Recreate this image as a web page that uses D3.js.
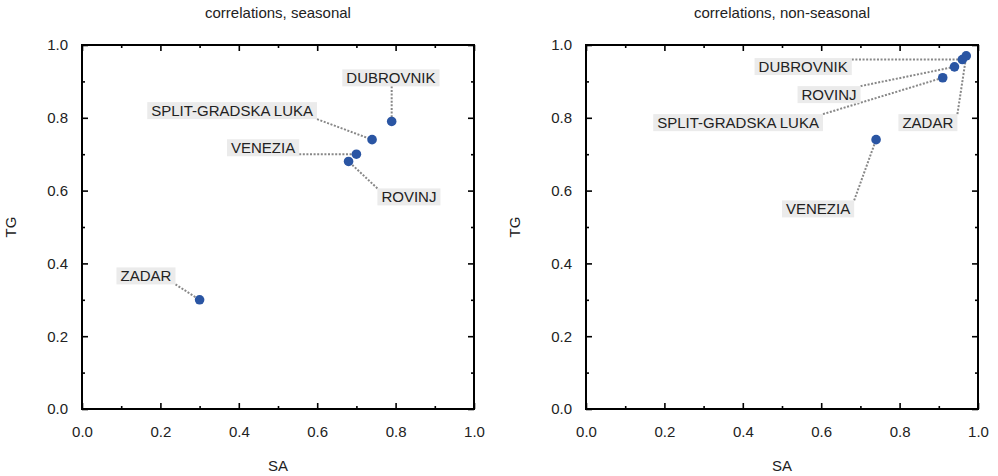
<!DOCTYPE html>
<html>
<head>
<meta charset="utf-8">
<script src="https://cdn.jsdelivr.net/npm/d3@7"></script>
<style>
  body { margin: 0; background: #fff; }
  text { font-family: "Liberation Sans", Arial, sans-serif; fill: #222; }
</style>
</head>
<body>
<script>
// station names, same order in every array below
var names = ["DUBROVNIK", "SPLIT-GRADSKA LUKA", "VENEZIA", "ROVINJ", "ZADAR"];

// seasonal correlations
var seasonalSA = [0.79, 0.74, 0.70, 0.68, 0.30];
var seasonalTG = [0.79, 0.74, 0.70, 0.68, 0.30];

// non-seasonal correlations
var nonSeasonalSA = [0.96, 0.91, 0.74, 0.94, 0.97];
var nonSeasonalTG = [0.96, 0.91, 0.74, 0.94, 0.97];

// where the name tags sit (data units)
var seasonalLabelAt = [[0.788, 0.909], [0.383, 0.819], [0.462, 0.717], [0.834, 0.582], [0.163, 0.365]];
var nonSeasonalLabelAt = [[0.554, 0.940], [0.388, 0.786], [0.592, 0.549], [0.620, 0.863], [0.872, 0.786]];

var majorTicks = [0, 0.2, 0.4, 0.6, 0.8, 1.0];
var minorTicks = [0.1, 0.3, 0.5, 0.7, 0.9];

var width = 998,
    height = 476;

var svg = d3.select("body").append("svg")
    .attr("width", width)
    .attr("height", height)
    .style("display", "block");

var plotW = 392,
    plotH = 364,
    plotTop = 45;

var panels = [
  {title: "correlations, seasonal", left: 82, sa: seasonalSA, tg: seasonalTG, labels: seasonalLabelAt},
  {title: "correlations, non-seasonal", left: 586, sa: nonSeasonalSA, tg: nonSeasonalTG, labels: nonSeasonalLabelAt}
];

panels.forEach(function(p) {
  var g = svg.append("g").attr("transform", "translate(" + p.left + "," + plotTop + ")");

  var x = d3.scaleLinear().domain([0, 1]).range([0, plotW]);
  var y = d3.scaleLinear().domain([0, 1]).range([plotH, 0]);

  // labelled axes
  g.append("g")
      .attr("transform", "translate(0," + plotH + ")")
      .call(d3.axisBottom(x).tickValues(majorTicks).tickFormat(d3.format(".1f"))
        .tickSizeInner(-6).tickSizeOuter(0).tickPadding(17));
  g.append("g")
      .call(d3.axisLeft(y).tickValues(majorTicks).tickFormat(d3.format(".1f"))
        .tickSizeInner(-6).tickSizeOuter(0).tickPadding(14));
  // mirror axes
  g.append("g")
      .call(d3.axisTop(x).tickValues(majorTicks).tickFormat("").tickSizeInner(-6).tickSizeOuter(0));
  g.append("g")
      .attr("transform", "translate(" + plotW + ",0)")
      .call(d3.axisRight(y).tickValues(majorTicks).tickFormat("").tickSizeInner(-6).tickSizeOuter(0));
  // minor ticks
  g.append("g")
      .attr("transform", "translate(0," + plotH + ")")
      .call(d3.axisBottom(x).tickValues(minorTicks).tickFormat("").tickSizeInner(-3).tickSizeOuter(0));
  g.append("g")
      .call(d3.axisLeft(y).tickValues(minorTicks).tickFormat("").tickSizeInner(-3).tickSizeOuter(0));
  g.append("g")
      .call(d3.axisTop(x).tickValues(minorTicks).tickFormat("").tickSizeInner(-3).tickSizeOuter(0));
  g.append("g")
      .attr("transform", "translate(" + plotW + ",0)")
      .call(d3.axisRight(y).tickValues(minorTicks).tickFormat("").tickSizeInner(-3).tickSizeOuter(0));

  g.selectAll(".domain").remove();
  g.selectAll(".tick line").attr("stroke", "#000").attr("stroke-width", 1.6);
  g.selectAll(".tick text").style("font-size", "15px").attr("fill", "#222");

  g.append("rect")
      .attr("width", plotW)
      .attr("height", plotH)
      .attr("fill", "none")
      .attr("stroke", "#000")
      .attr("stroke-width", 2);

  // titles
  g.append("text")
      .attr("x", plotW / 2)
      .attr("y", -27)
      .attr("text-anchor", "middle")
      .style("font-size", "15px")
      .text(p.title);
  g.append("text")
      .attr("x", plotW / 2)
      .attr("y", plotH + 62)
      .attr("text-anchor", "middle")
      .style("font-size", "15px")
      .text("SA");
  g.append("text")
      .attr("transform", "translate(-66," + (plotH / 2) + ") rotate(-90)")
      .attr("text-anchor", "middle")
      .style("font-size", "15px")
      .text("TG");

  var pts = names.map(function(n, i) {
    return {name: n, cx: x(p.sa[i]), cy: y(p.tg[i]), lx: x(p.labels[i][0]), ly: y(p.labels[i][1])};
  });

  var lineLayer = g.append("g");
  var boxLayer = g.append("g");
  var dotLayer = g.append("g");

  pts.forEach(function(d) {
    var t = boxLayer.append("text")
        .attr("x", d.lx)
        .attr("y", d.ly)
        .attr("dy", "0.35em")
        .attr("text-anchor", "middle")
        .style("font-size", "15px")
        .text(d.name);
    var b = t.node().getBBox();
    var bx0 = b.x - 4, bx1 = b.x + b.width + 4,
        by0 = b.y, by1 = b.y + b.height;
    boxLayer.insert("rect", "text")
        .attr("x", bx0)
        .attr("y", by0)
        .attr("width", bx1 - bx0)
        .attr("height", by1 - by0)
        .attr("fill", "#ebebeb");
    // leader starts at the point of the tag nearest to the dot
    lineLayer.append("line")
        .attr("x1", Math.max(bx0, Math.min(bx1, d.cx)))
        .attr("y1", Math.max(by0, Math.min(by1, d.cy)))
        .attr("x2", d.cx)
        .attr("y2", d.cy)
        .attr("stroke", "#888")
        .attr("stroke-width", 2)
        .attr("stroke-dasharray", "2,1.6");
  });

  dotLayer.selectAll("circle")
      .data(pts)
      .enter().append("circle")
      .attr("cx", function(d) { return d.cx; })
      .attr("cy", function(d) { return d.cy; })
      .attr("r", 4.8)
      .attr("fill", "#2a55a3");
});
</script>
</body>
</html>
